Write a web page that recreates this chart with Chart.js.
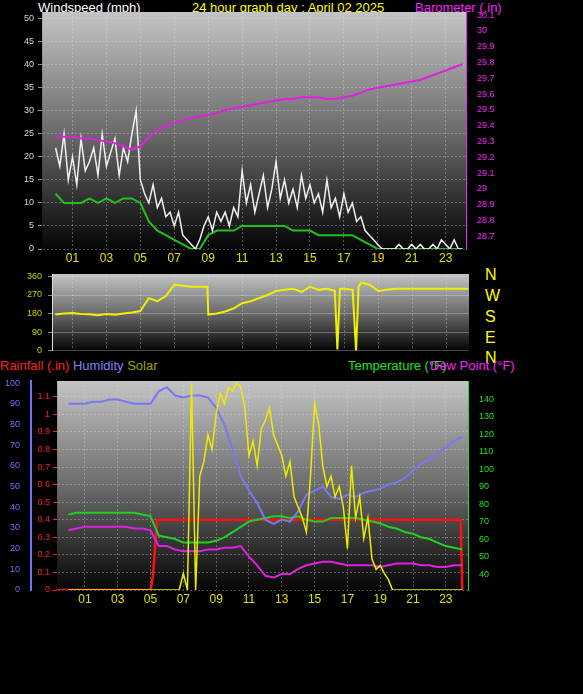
<!DOCTYPE html>
<html>
<head>
<meta charset="utf-8">
<script src="https://cdn.jsdelivr.net/npm/chart.js@4"></script>
<style>
  body { margin: 0; background: #000; width: 583px; height: 694px; overflow: hidden; position: relative; font-family: "Liberation Sans", Arial, sans-serif; }
  canvas { position: absolute; left: 0; }
  .t { position: absolute; font-size: 13px; white-space: nowrap; line-height: 13px; }
</style>
</head>
<body>
<div class="t" style="left:38px;top:1px;color:#fff">Windspeed (mph)</div>
<div class="t" style="left:192px;top:1px;color:#ffff00">24 hour graph day : April 02 2025</div>
<div class="t" style="left:415px;top:1px;color:#ff20ff">Barometer (.in)</div>
<div class="t" style="left:485px;top:267px;color:#ffff00;font-size:16px;line-height:16px">N</div>
<div class="t" style="left:485px;top:288px;color:#ffff00;font-size:16px;line-height:16px">W</div>
<div class="t" style="left:485px;top:309px;color:#ffff00;font-size:16px;line-height:16px">S</div>
<div class="t" style="left:485px;top:330px;color:#ffff00;font-size:16px;line-height:16px">E</div>
<div class="t" style="left:485px;top:350px;color:#ffff00;font-size:16px;line-height:16px">N</div>
<div class="t" style="left:0px;top:359px;color:#ff2020">Rainfall (.in) <span style="color:#8080ff">Humidity</span> <span style="color:#a0a000">Solar</span></div>
<div class="t" style="left:348px;top:359px;color:#20e020">Temperature (°F)</div>
<div class="t" style="left:430px;top:359px;color:#ff20ff">Dew Point (°F)</div>

<canvas id="top" width="583" height="270" style="top:0"></canvas>
<canvas id="mid" width="583" height="100" style="top:262px"></canvas>
<canvas id="bot" width="583" height="255" style="top:370px"></canvas>
<script>
// time axes (hours of the day)
const quarterHours = [];
for (let i = 0; i <= 96; i++) quarterHours.push(i / 4);
const halfHours = [];
for (let i = 0; i <= 48; i++) halfHours.push(i / 2);
const hourTicks = [1, 3, 5, 7, 9, 11, 13, 15, 17, 19, 21, 23];

// wind gust (mph), every 15 min
const windGust = [22,18,25,15, 20,14,24,17, 19,22,16,25, 18,21,24,16, 22,19,25,30,
  15,12,10,14, 9,11,7,8, 5,8,3,2, 1,0,2,5, 7,4,8,6, 8,5,9,7, 17,10,14,8,
  12,16,9,13, 19,11,15,10, 13,9,16,11, 14,10,12,8, 15,9,11,7, 12,8,10,6,
  7,4,3,2, 1,0,0,0, 0,1,0,0, 1,0,1,0, 0,1,0,2, 1,0,2,0, 0];
// average wind (mph), every 30 min
const windAvg = [12,10, 10,10, 11,10, 11,10, 11,11, 10,6, 4,3, 2,1, 0,0, 3,4, 4,4,
  5,5, 5,5, 5,5, 4,4, 4,3, 3,3, 3,3, 2,1, 0,0, 0,0, 0,0, 0,0, 0,0, 0];
// barometer (in), every 30 min
const barometer = [29.33,29.33,29.33,29.32,29.32,29.31,29.30,29.29,29.27,29.25,
  29.27,29.33,29.37,29.40,29.42,29.43,29.45,29.46,29.47,29.48,
  29.50,29.51,29.52,29.53,29.54,29.55,29.56,29.57,29.57,29.58,
  29.58,29.58,29.57,29.57,29.58,29.59,29.61,29.63,29.64,29.65,
  29.66,29.67,29.68,29.69,29.71,29.73,29.75,29.77,29.79];

// wind direction (deg)
const dirHours = [0,0.5,1,1.5,2,2.5,3,3.5,4,4.5,5,5.5,6,6.5,7,7.5,8,8.5,8.95,9,9.5,10,10.5,11,11.5,12,12.5,13,13.5,14,14.5,15,15.5,16,16.45,16.6,16.75,17,17.5,17.7,17.85,18,18.5,19,19.5,20,21,22,23,24.3];
const dirValues = [175,180,182,178,176,172,178,174,180,185,192,255,240,265,320,315,310,310,310,175,180,190,205,230,240,255,270,290,295,300,285,310,295,300,290,5,300,300,295,0,310,330,320,290,295,300,300,300,300,300];

// humidity (%), temperature and dew point (F), every 30 min
const humidity = [90,90,90,91,91,92,92,91,90,90,90,96,98,94,93,94,94,93,88,80,68,55,48,42,34,32,34,33,38,46,48,50,45,44,46,45,47,48,49,51,52,54,58,61,63,66,69,72,74];
const temperature = [74,75,75,75,75,75,75,75,75,74,73,62,61,60,58,58,58,58,59,61,64,67,70,71,72,73,73,72,73,71,70,70,72,72,72,72,71,70,69,67,66,64,63,61,60,58,56,55,54];
const dewPoint = [65,66,67,67,67,67,67,67,66,66,65,56,56,54,53,53,53,54,54,55,55,56,50,45,39,38,40,40,43,45,46,47,47,46,45,45,45,45,44,45,46,46,46,45,45,44,44,45,45];
// rainfall (in)
const rainHours = [-0.7,5.0,5.15,5.4,23.9,24.0];
const rainValues = [0,0,0.08,0.4,0.4,0];
// solar (% of max), every 15 min
const solar = [0,0,0,0, 0,0,0,0, 0,0,0,0, 0,0,0,0, 0,0,0,0, 0,0,0,0, 0,0,0,0,
  8,0,100,0, 55,62,75,68, 85,95,90,98, 96,100,98,88, 65,72,60,78, 82,88,75,70,
  65,55,62,45, 40,35,28,55, 90,80,60,50, 55,45,50,40, 20,60,35,45, 25,35,15,10,
  12,8,5,0, 0,0,0,0, 0,0,0,0, 0,0,0,0, 0,0,0,0, 0];

const pts = (xs, ys) => ys.map((v, i) => ({ x: xs[i], y: v }));

const bgPlugin = {
  id: "bg",
  beforeDraw(chart) {
    const a = chart.chartArea, c = chart.ctx;
    const g = c.createLinearGradient(0, a.top, 0, a.bottom);
    g.addColorStop(0, "#c4c4c4");
    g.addColorStop(0.5, "#6c6c6c");
    g.addColorStop(1, "#050505");
    c.save();
    c.fillStyle = g;
    c.fillRect(a.left, a.top, a.width, a.height);
    c.restore();
  }
};

const grid = { color: "rgba(220,220,220,0.35)", tickLength: 4, tickColor: "#888" };
const dash = { dash: [2, 2] };
function xAxis(min, max, show, h) {
  return {
    type: "linear", min: min, max: max, display: true,
    afterBuildTicks: s => { s.ticks = hourTicks.map(v => ({ value: v })); },
    afterFit: s => { s.height = h; },
    ticks: { display: show, color: "#e0e000", font: { size: 12 }, padding: 2,
      callback: v => (v < 10 ? "0" : "") + v },
    grid: Object.assign({}, grid, { drawTicks: false }), border: dash
  };
}
function line(data, color, axis, w) {
  return { data: data, borderColor: color, borderWidth: w || 1.5, pointRadius: 0, yAxisID: axis, tension: 0 };
}
const baseOpts = { responsive: false, animation: false, plugins: { legend: { display: false }, tooltip: { enabled: false } } };

new Chart(document.getElementById("top"), {
  type: "line",
  data: { datasets: [
    line(pts(halfHours, barometer), "#e020e0", "baro", 2),
    line(pts(quarterHours, windGust), "#f0f0f0", "y", 1.5),
    line(pts(halfHours, windAvg), "#20c020", "y", 2)
  ] },
  options: Object.assign({}, baseOpts, {
    layout: { padding: { top: 12 } },
    scales: {
      x: xAxis(-0.8, 24.2, true, 21),
      y: { position: "left", min: 0, max: 51.5, afterFit: s => { s.width = 42; },
        afterBuildTicks: s => { s.ticks = [0,5,10,15,20,25,30,35,40,45,50].map(v => ({ value: v })); },
        ticks: { color: "#d8d8d8", font: { size: 9 }, padding: 4 }, grid: grid, border: dash },
      baro: { position: "right", min: 28.62, max: 30.12, afterFit: s => { s.width = 117; },
        afterBuildTicks: s => { const t = []; for (let i = 0; i <= 14; i++) t.push({ value: 28.7 + i / 10 }); s.ticks = t; },
        ticks: { color: "#ff20ff", font: { size: 9 }, padding: 3, callback: v => +v.toFixed(1) },
        grid: { display: false }, border: { color: "#ff20ff" } }
    }
  }),
  plugins: [bgPlugin]
});

new Chart(document.getElementById("mid"), {
  type: "line",
  data: { datasets: [ line(pts(dirHours, dirValues), "#f0f000", "y", 2) ] },
  options: Object.assign({}, baseOpts, {
    layout: { padding: { top: 12, right: 114 } },
    scales: {
      x: xAxis(-0.2, 24.35, false, 4),
      y: { position: "left", min: 0, max: 372, afterFit: s => { s.width = 52; },
        afterBuildTicks: s => { s.ticks = [0,90,180,270,360].map(v => ({ value: v })); },
        ticks: { color: "#d0d000", font: { size: 9 }, padding: 6 }, grid: grid, border: { color: "#ddd" } }
    }
  }),
  plugins: [bgPlugin]
});

new Chart(document.getElementById("bot"), {
  type: "line",
  data: { datasets: [
    line(pts(quarterHours, solar), "#ecec00", "sol", 1.5),
    line(pts(halfHours, humidity), "#7878f0", "hum", 2),
    line(pts(halfHours, temperature), "#20d020", "temp", 2),
    line(pts(halfHours, dewPoint), "#e020e0", "temp", 2),
    line(pts(rainHours, rainValues), "#ff1010", "rain", 2.5)
  ] },
  options: Object.assign({}, baseOpts, {
    layout: { padding: { top: 11 } },
    scales: {
      x: xAxis(-0.7, 24.35, true, 35),
      rain: { position: "left", min: 0, max: 1.19, afterFit: s => { s.width = 26; },
        afterBuildTicks: s => { const t = []; for (let i = 0; i <= 11; i++) t.push({ value: i / 10 }); s.ticks = t; },
        ticks: { color: "#ff2020", font: { size: 9 }, padding: 3, callback: v => +v.toFixed(1) },
        grid: Object.assign({}, grid, { tickColor: "#ff2020" }), border: dash },
      hum: { position: "left", min: 0, max: 101, afterFit: s => { s.width = 31; },
        afterBuildTicks: s => { const t = []; for (let i = 0; i <= 10; i++) t.push({ value: i * 10 }); s.ticks = t; },
        ticks: { color: "#7070ff", font: { size: 9 }, padding: 3 }, grid: { display: false }, border: { color: "#7070ff", width: 2 } },
      temp: { position: "right", min: 30.9, max: 150.3, afterFit: s => { s.width = 115; },
        afterBuildTicks: s => { s.ticks = [40,50,60,70,80,90,100,110,120,130,140].map(v => ({ value: v })); },
        ticks: { color: "#20e020", font: { size: 9 }, padding: 3 }, grid: { display: false }, border: { color: "#20e020" } },
      sol: { display: false, min: 0, max: 101 }
    }
  }),
  plugins: [bgPlugin]
});
</script>
</body>
</html>
